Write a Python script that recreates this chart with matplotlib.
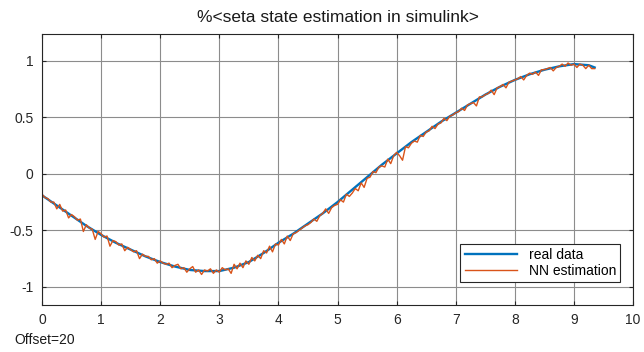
import numpy as np
import matplotlib
matplotlib.use("Agg")
import matplotlib.pyplot as plt

plt.rcParams['font.family'] = ['Liberation Sans', 'DejaVu Sans']

# real data (read at 0.25 steps)
t_real = [0.0, 0.25, 0.5, 0.75, 1.0, 1.25, 1.5, 1.75, 2.0, 2.25, 2.5, 2.75,
          3.0, 3.25, 3.5, 3.75, 4.0, 4.25, 4.5, 4.75, 5.0, 5.25, 5.5, 5.75,
          6.0, 6.25, 6.5, 6.75, 7.0, 7.25, 7.5, 7.75, 8.0, 8.25, 8.5, 8.75,
          9.0, 9.25, 9.35]
y_real = [-0.19, -0.28, -0.37, -0.46, -0.54, -0.61, -0.67, -0.73, -0.78, -0.82,
          -0.85, -0.86, -0.86, -0.83, -0.78, -0.70, -0.61, -0.53, -0.44, -0.35,
          -0.25, -0.14, -0.03, 0.08, 0.18, 0.28, 0.37, 0.46, 0.54, 0.62,
          0.70, 0.77, 0.83, 0.88, 0.92, 0.95, 0.97, 0.96, 0.94]

# NN estimation (sampled every 0.05 s)
y_nn = [-0.18, -0.21, -0.22, -0.25, -0.25, -0.31, -0.27, -0.33, -0.32, -0.39,
        -0.36, -0.38, -0.41, -0.40, -0.51, -0.45, -0.48, -0.49, -0.58, -0.51,
        -0.53, -0.56, -0.55, -0.64, -0.59, -0.60, -0.63, -0.62, -0.68, -0.65,
        -0.67, -0.69, -0.68, -0.75, -0.71, -0.73, -0.73, -0.76, -0.75, -0.79,
        -0.77, -0.79, -0.80, -0.79, -0.83, -0.81, -0.80, -0.84, -0.83, -0.87,
        -0.84, -0.82, -0.87, -0.85, -0.89, -0.85, -0.86, -0.84, -0.88, -0.85,
        -0.87, -0.83, -0.85, -0.84, -0.88, -0.80, -0.84, -0.79, -0.83, -0.77,
        -0.80, -0.74, -0.77, -0.72, -0.75, -0.68, -0.70, -0.64, -0.69, -0.62,
        -0.63, -0.58, -0.62, -0.55, -0.59, -0.53, -0.52, -0.50, -0.48, -0.46,
        -0.45, -0.43, -0.40, -0.42, -0.37, -0.35, -0.31, -0.35, -0.30, -0.28,
        -0.27, -0.23, -0.25, -0.18, -0.20, -0.17, -0.13, -0.15, -0.08, -0.12,
        -0.04, -0.03, 0.02, 0.01, 0.06, 0.07, 0.06, 0.13, 0.09, 0.16,
        0.19, 0.16, 0.12, 0.24, 0.23, 0.27, 0.29, 0.28, 0.34, 0.33,
        0.37, 0.38, 0.42, 0.40, 0.44, 0.45, 0.49, 0.47, 0.51, 0.52,
        0.54, 0.55, 0.58, 0.56, 0.61, 0.62, 0.63, 0.60, 0.68, 0.68,
        0.70, 0.71, 0.74, 0.70, 0.76, 0.77, 0.79, 0.76, 0.81, 0.82,
        0.83, 0.84, 0.86, 0.83, 0.87, 0.89, 0.88, 0.90, 0.87, 0.92,
        0.92, 0.93, 0.94, 0.91, 0.94, 0.95, 0.97, 0.95, 0.98, 0.96,
        0.97, 0.94, 0.97, 0.96, 0.93, 0.96, 0.93, 0.93]
t_nn = np.linspace(0, 9.35, len(y_nn))

fig = plt.figure(figsize=(6.44, 3.52), dpi=100)
ax = fig.add_axes([0.0652, 0.1335, 0.9178, 0.7699])

ax.plot(t_real, y_real, color=(0, 0.447, 0.741), lw=1.7, label='real data')
ax.plot(t_nn, y_nn, color=(0.85, 0.325, 0.098), lw=1.0, label='NN estimation')

ax.set_xlim(0, 10)
ax.set_ylim(-1.16, 1.236)
ax.set_xticks(range(0, 11))
ax.set_yticks([-1, -0.5, 0, 0.5, 1])
ax.set_yticklabels(['-1', '-0.5', '0', '0.5', '1'])
ax.grid(True, color='#8c8c8c', lw=0.8)
ax.set_axisbelow(True)
ax.tick_params(direction='in', length=3, labelsize=10, colors='#262626',
               top=True, right=True, pad=6)
for s in ax.spines.values():
    s.set_color('#262626')
    s.set_linewidth(0.8)

ax.set_title('%<seta state estimation in simulink>', fontsize=12.5,
             color='#1a1a1a', pad=8.5)

leg = ax.legend(loc='lower right', bbox_to_anchor=(0.978, 0.085),
                fontsize=10, fancybox=False, framealpha=1,
                edgecolor='#262626', borderpad=0.3, handlelength=3.8,
                labelspacing=0.15, borderaxespad=0)
leg.get_frame().set_linewidth(0.8)

fig.text(0.023, 0.034, 'Offset=20', fontsize=10, color='#1a1a1a',
         ha='left', va='center')

fig.savefig('out.png', dpi=100)
